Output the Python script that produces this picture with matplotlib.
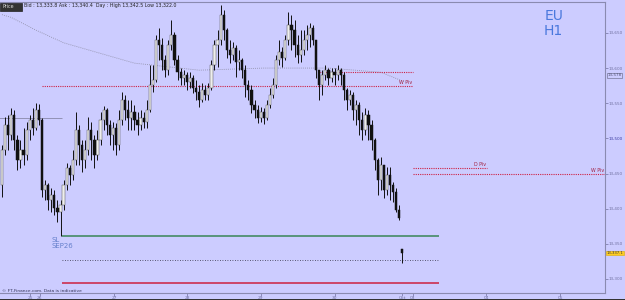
import numpy as np
import matplotlib
matplotlib.use("Agg")
import matplotlib.pyplot as plt

# ---------------- data (hourly candles) ----------------
closes = [13484, 13519, 13505, 13533, 13498, 13469, 13484, 13476, 13512, 13526,
          13515, 13540, 13526, 13427, 13434, 13412, 13420, 13401, 13395, 13405,
          13434, 13458, 13448, 13469, 13512, 13491, 13469, 13484, 13512, 13498,
          13476, 13498, 13526, 13540, 13519, 13505, 13515, 13491, 13526, 13555,
          13540, 13529, 13538, 13526, 13519, 13529, 13523, 13540, 13576, 13583,
          13640, 13633, 13612, 13597, 13633, 13647, 13612, 13595, 13586, 13590,
          13580, 13586, 13572, 13566, 13555, 13569, 13562, 13572, 13604, 13633,
          13640, 13676, 13654, 13626, 13619, 13629, 13609, 13612, 13597, 13576,
          13569, 13548, 13540, 13529, 13538, 13529, 13548, 13562, 13576, 13612,
          13623, 13614, 13640, 13661, 13654, 13633, 13619, 13626, 13640, 13647,
          13657, 13640, 13597, 13576, 13590, 13597, 13586, 13595, 13590, 13597,
          13590, 13569, 13555, 13562, 13540, 13548, 13526, 13512, 13533, 13519,
          13498, 13469, 13441, 13462, 13427, 13448, 13434, 13424, 13398, 13387,
          13337]
highs = [13491, 13531, 13533, 13543, 13540, 13505, 13498, 13515, 13523, 13533,
         13543, 13550, 13549, 13529, 13441, 13437, 13430, 13427, 13412, 13412,
         13441, 13465, 13462, 13484, 13538, 13519, 13498, 13498, 13531, 13523,
         13505, 13512, 13538, 13546, 13543, 13526, 13523, 13522, 13540, 13566,
         13562, 13555, 13555, 13548, 13538, 13540, 13538, 13555, 13604, 13604,
         13647, 13657, 13643, 13619, 13640, 13668, 13651, 13619, 13600, 13597,
         13595, 13595, 13590, 13583, 13576, 13579, 13576, 13579, 13612, 13640,
         13654, 13690, 13683, 13657, 13640, 13637, 13633, 13626, 13614, 13604,
         13583, 13576, 13555, 13548, 13545, 13543, 13555, 13572, 13586, 13619,
         13640, 13630, 13647, 13680, 13676, 13668, 13647, 13654, 13654, 13661,
         13664, 13661, 13640, 13597, 13597, 13604, 13600, 13600, 13600, 13604,
         13600, 13595, 13572, 13569, 13566, 13555, 13552, 13538, 13543, 13540,
         13526, 13501, 13472, 13474, 13462, 13459, 13459, 13438, 13430, 13405,
         13343]
lows = [13417, 13476, 13484, 13498, 13484, 13455, 13458, 13462, 13469, 13498,
        13505, 13512, 13519, 13417, 13412, 13398, 13395, 13391, 13381, 13361,
        13398, 13427, 13434, 13441, 13462, 13462, 13452, 13458, 13476, 13469,
        13458, 13469, 13491, 13512, 13505, 13491, 13484, 13476, 13484, 13519,
        13526, 13512, 13512, 13512, 13505, 13512, 13515, 13515, 13538, 13566,
        13580, 13612, 13597, 13587, 13590, 13626, 13604, 13583, 13576, 13576,
        13569, 13572, 13565, 13555, 13545, 13552, 13555, 13555, 13569, 13597,
        13602, 13633, 13640, 13614, 13607, 13612, 13587, 13597, 13586, 13559,
        13555, 13536, 13529, 13522, 13523, 13521, 13526, 13543, 13558, 13572,
        13604, 13602, 13612, 13633, 13626, 13616, 13607, 13609, 13619, 13626,
        13630, 13633, 13586, 13555, 13562, 13583, 13576, 13580, 13576, 13583,
        13576, 13555, 13540, 13548, 13526, 13519, 13505, 13498, 13505, 13498,
        13484, 13455, 13420, 13427, 13415, 13420, 13412, 13410, 13395, 13384,
        13322]
first_open = 13434
gap_open = 13342          # open of the last (Oct 03) candle after the weekend gap
opens = [first_open] + closes[:-2] + [gap_open]

# moving average (dotted grey) read at a few bars
ma_idx = [0, 3, 11, 20, 43, 64, 85, 106, 123, 131]
ma_val = [13676, 13672, 13654, 13636, 13607, 13597, 13600, 13600, 13594, 13580]

# horizontal levels
prev_wpiv = 13575
upper_lvl = 13594
dpiv = 13458
wpiv = 13449
sl_level = 13361
dotted_level = 13327
red_level = 13294
left_price_line = 13529

y_ticks = [13300, 13350, 13400, 13450, 13500, 13550, 13600, 13650]
day_labels = ["25", "26", "27", "28", "29", "30", "Oct", "03", "04", "05"]
day_pos = [9.1, 12.3, 36.4, 60.1, 84.0, 108.0, 130.0, 133.3, 157.2, 181.3]

bg = "#ccccff"
W, H = 625, 300
fig = plt.figure(figsize=(W / 100, H / 100), dpi=100, facecolor=bg)
ax = fig.add_axes([0.0, 7 / H, 605 / W, 291 / H], facecolor=bg)

n = len(closes)
idx = np.arange(n)
o = np.array(opens, float)
c = np.array(closes, float)
h = np.maximum(np.array(highs, float), np.maximum(o, c))
l = np.minimum(np.array(lows, float), np.minimum(o, c))
up = c >= o

# wicks
ax.vlines(idx, l, h, color="#111111", lw=0.7, zorder=3)
# bodies
bh = np.abs(c - o)
bh = np.where(bh < 0.8, 0.8, bh)
bottoms = np.minimum(o, c)
ax.bar(idx[up], bh[up], bottom=bottoms[up], width=0.72, color="#eeeeee",
       edgecolor="#555555", linewidth=0.35, zorder=4)
ax.bar(idx[~up], bh[~up], bottom=bottoms[~up], width=0.72, color="#111111",
       edgecolor="#111111", linewidth=0.35, zorder=4)

# moving average
ax.plot(ma_idx, ma_val, color="#8a8aa0", lw=0.6, ls=(0, (1, 1.5)), zorder=2)

# levels
red_dot = dict(color="#cc2244", lw=0.8, ls=(0, (1, 1)), zorder=2)
ax.hlines(prev_wpiv, 13, 133.5, **red_dot)
ax.hlines(upper_lvl, 103, 133.5, **red_dot)
ax.hlines(dpiv, 133.5, 157.5, **red_dot)
ax.hlines(wpiv, 133.5, 196, **red_dot)
ax.hlines(sl_level, 19.5, 142, color="#4f9070", lw=1.3, zorder=2)
ax.hlines(dotted_level, 19.5, 142, color="#333344", lw=0.6, ls=(0, (1, 2)), zorder=2)
ax.hlines(red_level, 19.5, 142, color="#cc2040", lw=1.1, zorder=2)
ax.hlines(left_price_line, -1, 19.5, color="#8888aa", lw=0.6, zorder=2)

lab = dict(fontsize=3.4, color="#a02040", zorder=5)
ax.text(133.2, prev_wpiv + 1.5, "W Piv", ha="right", va="bottom", **lab)
ax.text(157.2, dpiv + 1.5, "D Piv", ha="right", va="bottom", **lab)
ax.text(195.5, wpiv + 1.5, "W Piv", ha="right", va="bottom", **lab)

ax.text(16.2, sl_level - 1, "SL\nSEP26", fontsize=5, color="#6680cc",
        ha="left", va="top", linespacing=1.0, zorder=5)

ax.text(0.915, 0.975, "EU\nH1", transform=ax.transAxes, fontsize=10,
        color="#4a78dd", ha="center", va="top", linespacing=1.05)

ax.set_xlim(-0.65, 195.8)
ax.set_ylim(13280, 13694)

# axes styling
ax.spines["left"].set_visible(False)
for s in ["right", "top", "bottom"]:
    ax.spines[s].set_color("#8a8ab0")
    ax.spines[s].set_linewidth(0.8)

ax.yaxis.tick_right()
ax.set_yticks(y_ticks)
ax.set_yticklabels([f"{v:,}" for v in y_ticks])
ax.tick_params(axis="y", labelsize=3.0, colors="#7070a0", length=2, width=0.5, pad=0.8)
for t in ax.get_yticklabels():
    if t.get_text() == "13,500":
        t.set_color("#3a3aa0")

ax.set_xticks(day_pos)
ax.set_xticklabels(day_labels)
ax.tick_params(axis="x", labelsize=3.2, colors="#7070a0", length=2, width=0.5, pad=0.5)

# price boxes on the right axis
ax.text(1.004, 13590, "13,578", transform=ax.get_yaxis_transform(), fontsize=3.0,
        color="#555577", ha="left", va="center",
        bbox=dict(boxstyle="square,pad=0.12", fc=bg, ec="#777799", lw=0.5), clip_on=False)
ax.text(1.003, closes[-1], "13,337.1", transform=ax.get_yaxis_transform(), fontsize=2.7,
        color="#333333", ha="left", va="center",
        bbox=dict(boxstyle="square,pad=0.1", fc="#ffcc22", ec="#ddaa00", lw=0.4), clip_on=False)

# header
fig.patches.append(plt.Rectangle((0, 1 - 11 / H), 22 / W, 8 / H, transform=fig.transFigure,
                                 fc="#333333", ec="#222222", lw=0.5))
fig.text(3 / W, 1 - 7 / H, "Price", fontsize=3.4, color="#dddddd", va="center")
fig.text(24 / W, 1 - 6 / H, "Bid : 13,333.8 Ask : 13,340.4  Day : High 13,342.5 Low 13,322.0",
         fontsize=3.4, color="#222222", va="center")
fig.text(2 / W, 1 - 291 / H, "© FT-Finance.com. Data is indicative", fontsize=3.2,
         color="#333355", va="center")

# bottom dark border
fig.patches.append(plt.Rectangle((0, 0), 1, 1.5 / H, transform=fig.transFigure,
                                 fc="#333333", ec="none"))

fig.savefig("out.png", dpi=100, facecolor=bg)
